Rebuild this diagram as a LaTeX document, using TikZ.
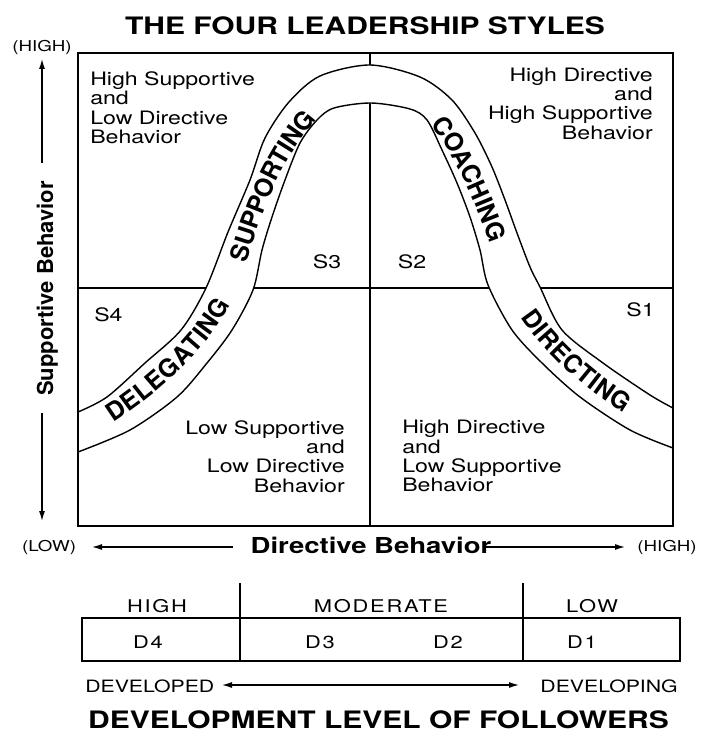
\documentclass[tikz,border=0pt]{standalone}
\usepackage{fontspec}
\setmainfont{TeX Gyre Heros}
\newfontfamily\spacedfont[LetterSpace=8]{TeX Gyre Heros}
\usetikzlibrary{arrows.meta,decorations.text}

\begin{document}
\begin{tikzpicture}[x=1pt,y=1pt,
    wide/.style={xscale=1.25},
    quadtext/.style={wide,font=\fontsize{18.5}{19.4}\selectfont},
    slabel/.style={wide,font=\fontsize{18.5}{22}\selectfont,anchor=base},
    endlabel/.style={wide,font=\fontsize{15}{18}\selectfont,anchor=base},
    axislabel/.style={font=\fontsize{22}{26}\selectfont\bfseries,anchor=base},
    heading/.style={wide,font=\fontsize{24}{28}\selectfont\bfseries,anchor=base},
    levelbox/.style={wide,font=\spacedfont\fontsize{17.5}{20}\selectfont,anchor=base},
    devtext/.style={wide,font=\fontsize{17}{20}\selectfont},
    axisarrow/.style={line width=1.2pt,-{Latex[length=10pt,width=6pt]}},
    band/.style={line width=1.4pt,fill=white},
    bandword/.style={decorate,decoration={text along path,text align=center,raise=-9pt,
        text={|\fontsize{25}{30}\selectfont\bfseries|#1}}}]
    \tikzstyle{every node}+=[inner sep=0pt]
    \useasboundingbox (0,0) rectangle (702,-735);
    \node[heading] (title) at (365,-35) {THE FOUR LEADERSHIP STYLES};
    % quadrant grid
    \draw [black,line width=1.8pt] (78,-288) -- (673,-288);
    \draw [black,line width=1.2pt] (370,-53) -- (370,-526);
    % the curve of leadership styles
    \filldraw [band] plot[smooth] coordinates {(78,-412) (107,-397) (145,-363) (181,-330) (206,-288)
        (228,-232) (250,-180) (265,-138) (289,-102) (320,-76) (370,-65) (420,-77) (452,-100)
        (475,-133) (492,-167) (505,-200) (517,-233) (530,-267) (540,-287) (562,-330) (603,-363)
        (650,-395) (673,-408)}
      -- plot[smooth] coordinates {(673,-448) (630,-430) (580,-397) (542,-363) (512,-330)
        (488,-285) (480,-250) (470,-217) (457,-183) (442,-150) (427,-120) (410,-109) (371,-103)
        (334,-108) (317,-120) (300,-143) (285,-180) (272,-217) (262,-250) (253,-290) (232,-330)
        (207,-363) (177,-397) (130,-430) (78,-452)} -- cycle;
    \draw [black,line width=2.2pt] (78,-53) rectangle (673,-526);
    \path [bandword=DELEGATING] (78,-432) .. controls (120,-412) and (215,-345) .. (236,-268);
    \path [bandword=SUPPORTING] (230,-288) .. controls (250,-215) and (274,-142) .. (330,-94);
    \path [bandword=COACHING] (400,-88) .. controls (450,-110) and (485,-195) .. (514,-287);
    \path [bandword=DIRECTING] (507,-267) .. controls (520,-320) and (585,-390) .. (673,-428);
    % quadrant texts
    \node[quadtext,anchor=north west,align=left] (hsld) at (90,-71.5) {High Supportive\\and\\Low Directive\\Behavior};
    \node[quadtext,anchor=north east,align=right] (hdhs) at (653,-67.5) {High Directive\\and\\High Supportive\\Behavior};
    \node[quadtext,anchor=north east,align=right] (lsld) at (345,-420) {Low Supportive\\and\\Low Directive\\Behavior};
    \node[quadtext,anchor=north west,align=left] (hdls) at (402,-420) {High Directive\\and\\Low Supportive\\Behavior};
    \node[slabel] (s3) at (327,-268.5) {S3};
    \node[slabel] (s2) at (412,-268.5) {S2};
    \node[slabel,anchor=base west] (s4) at (94,-321) {S4};
    \node[slabel,anchor=base east] (s1) at (655,-316) {S1};
    % axes
    \node[endlabel] (yhigh) at (42,-52) {(HIGH)};
    \node[axislabel,rotate=90] (ylab) at (53,-288.5) {Supportive Behavior};
    \coordinate (ytip) at (42,-59);
    \coordinate (ytail) at (42,-163);
    \coordinate (ybtail) at (42,-413);
    \coordinate (ybot) at (42,-521);
    \draw [axisarrow] (ytail) -- (ytip);
    \draw [axisarrow] (ybtail) -- (ybot);
    \node[endlabel] (xlow) at (49,-551) {(LOW)};
    \node[endlabel] (xhigh) at (667,-551) {(HIGH)};
    \node[axislabel,wide] (xlab) at (371,-553) {Directive Behavior};
    \coordinate (xltip) at (92,-547);
    \coordinate (xltail) at (233,-547);
    \coordinate (xrtail) at (486,-547);
    \coordinate (xrtip) at (625,-547);
    \draw [axisarrow] (xltail) -- (xltip);
    \draw [axisarrow] (xrtail) -- (xrtip);
    % development levels
    \draw [black,line width=1.8pt] (82,-618) rectangle (680,-661);
    \draw [black,line width=1.2pt] (240,-583) -- (240,-661);
    \draw [black,line width=1.2pt] (523,-583) -- (523,-661);
    \node[levelbox] (lhigh) at (157,-612) {HIGH};
    \node[levelbox] (lmod) at (381,-612) {MODERATE};
    \node[levelbox] (llow) at (592,-612) {LOW};
    \node[levelbox] (d4) at (148,-648) {D4};
    \node[levelbox] (d3) at (320,-648) {D3};
    \node[levelbox] (d2) at (448,-648) {D2};
    \node[levelbox] (d1) at (582,-648) {D1};
    \node[devtext,anchor=base west] (devd) at (85,-692) {DEVELOPED};
    \node[devtext,anchor=base east] (devg) at (678,-692) {DEVELOPING};
    \coordinate (devl) at (222,-685);
    \coordinate (devr) at (519,-685);
    \draw [line width=1.2pt,{Latex[length=10pt,width=6pt]}-{Latex[length=10pt,width=6pt]}] (devl) -- (devr);
    \node[heading] (foot) at (378.5,-728) {DEVELOPMENT LEVEL OF FOLLOWERS};
\end{tikzpicture}
\end{document}
